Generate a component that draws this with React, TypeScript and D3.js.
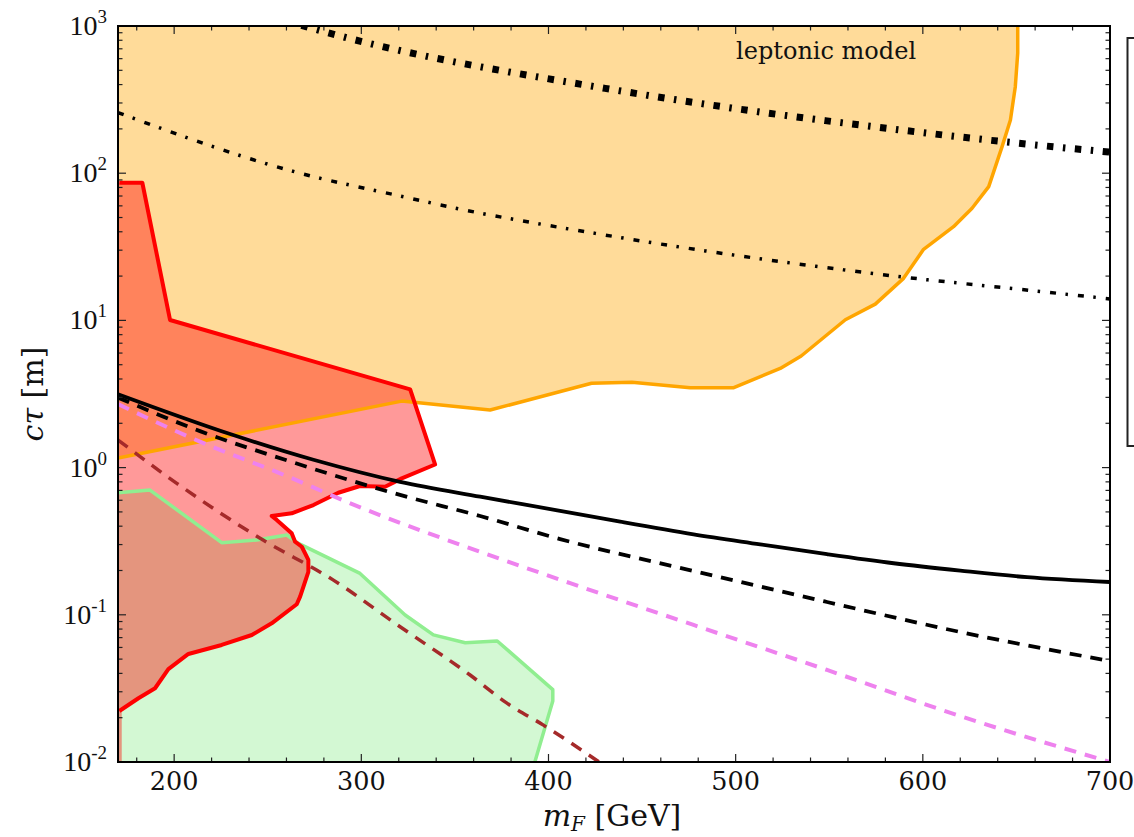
import React from 'react';
import * as d3 from 'd3';

type P = [number, number];

// axis definitions
const xDomain: P = [170, 700];
const yDomain: P = [0.01, 1000];
const xMajorTicks = [200, 300, 400, 500, 600, 700];
const xMinorStep = 20;
const yExponents = [-2, -1, 0, 1, 2, 3];

// shaded regions (m_F [GeV], c tau [m])
const orangeEdge: P[] = [
  [170, 1.16], [321.6, 2.83], [368.8, 2.46], [423, 3.74], [444.6, 3.8], [475.7, 3.49],
  [499, 3.49], [523.8, 4.72], [535, 5.73], [558.6, 10.1], [574.6, 12.9], [589.7, 19.3],
  [600.4, 30.4], [616.4, 43.3], [626.3, 57.8], [635.2, 81], [642.3, 151], [646.8, 230],
  [649.4, 387], [650.7, 653], [650.7, 1000],
];

const redEdge: P[] = [
  [170.7, 86.1], [183, 86.1], [197.8, 10.07], [326.1, 3.4], [339.4, 1.05], [321.6, 0.845],
  [312.7, 0.741], [299.3, 0.75], [287.7, 0.675], [274.4, 0.557], [262.8, 0.489],
  [252.1, 0.469], [254.8, 0.441], [262.8, 0.358], [264.6, 0.314], [268.2, 0.29],
  [271.7, 0.236], [271.7, 0.196], [267.3, 0.133], [265.5, 0.118], [252.1, 0.0875],
  [241.5, 0.0729], [225.4, 0.0624], [207.6, 0.0542], [196.9, 0.0427], [189.8, 0.0317],
  [180.9, 0.0271], [170.7, 0.0222],
];

const greenEdge: P[] = [
  [170, 0.675], [187.1, 0.704], [225.4, 0.309], [244.1, 0.322], [260.2, 0.348],
  [266.1, 0.307], [299.3, 0.191], [323.4, 0.0997], [338.5, 0.073], [355.5, 0.0646],
  [372.6, 0.0664], [402.3, 0.031], [402.3, 0.026], [392.7, 0.01],
];

// curves
const blackSolid: P[] = [
  [170, 3.15], [229.9, 1.69], [274.4, 1.13], [320.7, 0.8], [363.5, 0.634], [406.2, 0.509],
  [438.3, 0.429], [477.5, 0.352], [513.1, 0.301], [548.8, 0.258], [584.4, 0.224],
  [620, 0.1995], [655.7, 0.18], [700, 0.167],
];
const blackDashed: P[] = [
  [170, 2.99], [213.8, 1.77], [260.2, 1.12], [320.7, 0.652], [363.5, 0.469], [406.2, 0.327],
  [477.5, 0.1985], [548.8, 0.1222], [620, 0.0764], [700, 0.0485],
];
const violetDashed: P[] = [
  [170, 2.7], [213.8, 1.5], [256.6, 0.914], [302.9, 0.515], [363.5, 0.268], [411.6, 0.164],
  [477.5, 0.0853], [548.8, 0.0422], [620, 0.0205], [700, 0.01],
];
const brownDashed: P[] = [
  [170, 1.54], [201.4, 0.782], [245.9, 0.331], [285.1, 0.172], [320.7, 0.083],
  [358.1, 0.039], [377.8, 0.0251], [397.3, 0.0178], [427, 0.01],
];
const thinDashDot: P[] = [
  [170, 258], [264.7, 102], [320.7, 70], [350, 58], [425, 39], [523.8, 25.1],
  [586.5, 19.9], [663.3, 15.7], [700, 14.0],
];
const thickDashDot: P[] = [
  [268, 1010], [288.7, 855], [430.3, 377], [498.9, 276], [573.7, 207], [648.5, 161], [700, 139],
];

const W = 1134, H = 837;
const L = 118, R = 1110, T = 26, B = 762;
const SERIF = "'DejaVu Serif', serif";
const TICKFONT = "'Liberation Serif', 'DejaVu Serif', serif";

export default function App() {
  const x = d3.scaleLinear().domain(xDomain).range([L, R]);
  const y = d3.scaleLog().domain(yDomain).range([B, T]);
  const lin = d3.line<P>().x(d => x(d[0])).y(d => y(d[1]));
  const smooth = d3.line<P>().x(d => x(d[0])).y(d => y(d[1])).curve(d3.curveMonotoneX);

  const orangeFill = lin([...orangeEdge, [170, 1000]])! + 'Z';
  const redFill = lin([...redEdge, [172, 0.0222], [172, 0.01], [170, 0.01], [170, 86.1]])! + 'Z';
  const greenFill = lin([...greenEdge, [170, 0.01]])! + 'Z';

  const xMinor: number[] = [];
  for (let v = 180; v < 700; v += xMinorStep) if (v % 100 !== 0) xMinor.push(v);
  const yMinor: number[] = [];
  for (let e = -2; e < 3; e++) for (let k = 2; k <= 9; k++) yMinor.push(k * Math.pow(10, e));

  const tickColor = '#222';
  const majLen = 8, minLen = 4.5;

  return (
    <svg width={W} height={H} style={{ position: 'absolute', left: 0, top: 0, background: '#fff' }}
      xmlns="http://www.w3.org/2000/svg">
      <defs>
        <clipPath id="plotclip">
          <rect x={L} y={T} width={R - L} height={B - T} />
        </clipPath>
      </defs>
      <rect x={0} y={0} width={W} height={H} fill="#fff" />
      <g clipPath="url(#plotclip)">
        <path d={orangeFill} fill="rgba(255,165,0,0.4)" stroke="none" />
        <path d={greenFill} fill="rgba(144,238,144,0.4)" stroke="none" />
        <path d={redFill} fill="rgba(255,0,0,0.4)" stroke="none" />
        <path d={lin(greenEdge)!} fill="none" stroke="#90ee90" strokeWidth={3.5} strokeLinejoin="round" />
        <path d={lin(orangeEdge)!} fill="none" stroke="#ffa500" strokeWidth={3.5} strokeLinejoin="round" />
        <path d={lin(redEdge)!} fill="none" stroke="#ff0000" strokeWidth={4} strokeLinejoin="round" />

        <path d={smooth(thinDashDot)!} fill="none" stroke="#000" strokeWidth={3.5} strokeDasharray="6 9.5 2.5 10" />
        <path d={smooth(thickDashDot)!} fill="none" stroke="#000" strokeWidth={7} strokeDasharray="6.5 9.5 2.5 9.5" />
        <path d={smooth(brownDashed)!} fill="none" stroke="#a52a2a" strokeWidth={3.5} strokeDasharray="12 9" />
        <path d={smooth(violetDashed)!} fill="none" stroke="#ee82ee" strokeWidth={4} strokeDasharray="12 9" />
        <path d={smooth(blackDashed)!} fill="none" stroke="#000" strokeWidth={3.8} strokeDasharray="12 9" />
        <path d={smooth(blackSolid)!} fill="none" stroke="#000" strokeWidth={3.8} />

        <text x={x(548.3)} y={59} textAnchor="middle" fontFamily={SERIF} fontSize={24} fill="#111">leptonic model</text>
      </g>

      {/* ticks */}
      <g stroke={tickColor} strokeWidth={1.2}>
        {xMajorTicks.map(v => (
          <g key={'xM' + v}>
            <line x1={x(v)} x2={x(v)} y1={B} y2={B - majLen} />
            <line x1={x(v)} x2={x(v)} y1={T} y2={T + majLen} />
          </g>
        ))}
        {xMinor.map(v => (
          <g key={'xm' + v}>
            <line x1={x(v)} x2={x(v)} y1={B} y2={B - minLen} />
            <line x1={x(v)} x2={x(v)} y1={T} y2={T + minLen} />
          </g>
        ))}
        {yExponents.map(e => (
          <g key={'yM' + e}>
            <line x1={L} x2={L + majLen} y1={y(Math.pow(10, e))} y2={y(Math.pow(10, e))} />
            <line x1={R} x2={R - majLen} y1={y(Math.pow(10, e))} y2={y(Math.pow(10, e))} />
          </g>
        ))}
        {yMinor.map((v, i) => (
          <g key={'ym' + i}>
            <line x1={L} x2={L + minLen} y1={y(v)} y2={y(v)} />
            <line x1={R} x2={R - minLen} y1={y(v)} y2={y(v)} />
          </g>
        ))}
      </g>

      {/* spines */}
      <rect x={L} y={T} width={R - L} height={B - T} fill="none" stroke="#000" strokeWidth={2} />

      {/* x tick labels */}
      {xMajorTicks.map(v => (
        <text key={'xl' + v} x={x(v)} y={790} textAnchor="middle" fontFamily={SERIF} fontSize={25.5} fill="#111">{v}</text>
      ))}
      {/* y tick labels */}
      {yExponents.map(e => (
        <text key={'yl' + e} x={107} y={y(Math.pow(10, e)) + 9} textAnchor="end" fontFamily={TICKFONT} fontSize={28} fill="#111">
          <tspan>10</tspan>
          <tspan dy={-12} fontSize={19}>{e < 0 ? '-' + Math.abs(e) : String(e)}</tspan>
        </text>
      ))}

      {/* axis labels */}
      <text x={612} y={826} textAnchor="middle" fontFamily={SERIF} fontSize={30} fill="#111">
        <tspan fontStyle="italic">m</tspan>
        <tspan fontStyle="italic" fontSize={20} dy={5}>F</tspan>
        <tspan dy={-5}> [GeV]</tspan>
      </text>
      <text transform={`translate(43, ${(T + B) / 2}) rotate(-90)`} textAnchor="middle" fontFamily={SERIF} fontSize={30} fill="#111">
        <tspan fontStyle="italic">cτ</tspan>
        <tspan> [m]</tspan>
      </text>

      {/* legend frame (cut off at the right edge) */}
      <rect x={1127.5} y={38} width={120} height={408} fill="#fff" stroke="#222" strokeWidth={2} />
    </svg>
  );
}
